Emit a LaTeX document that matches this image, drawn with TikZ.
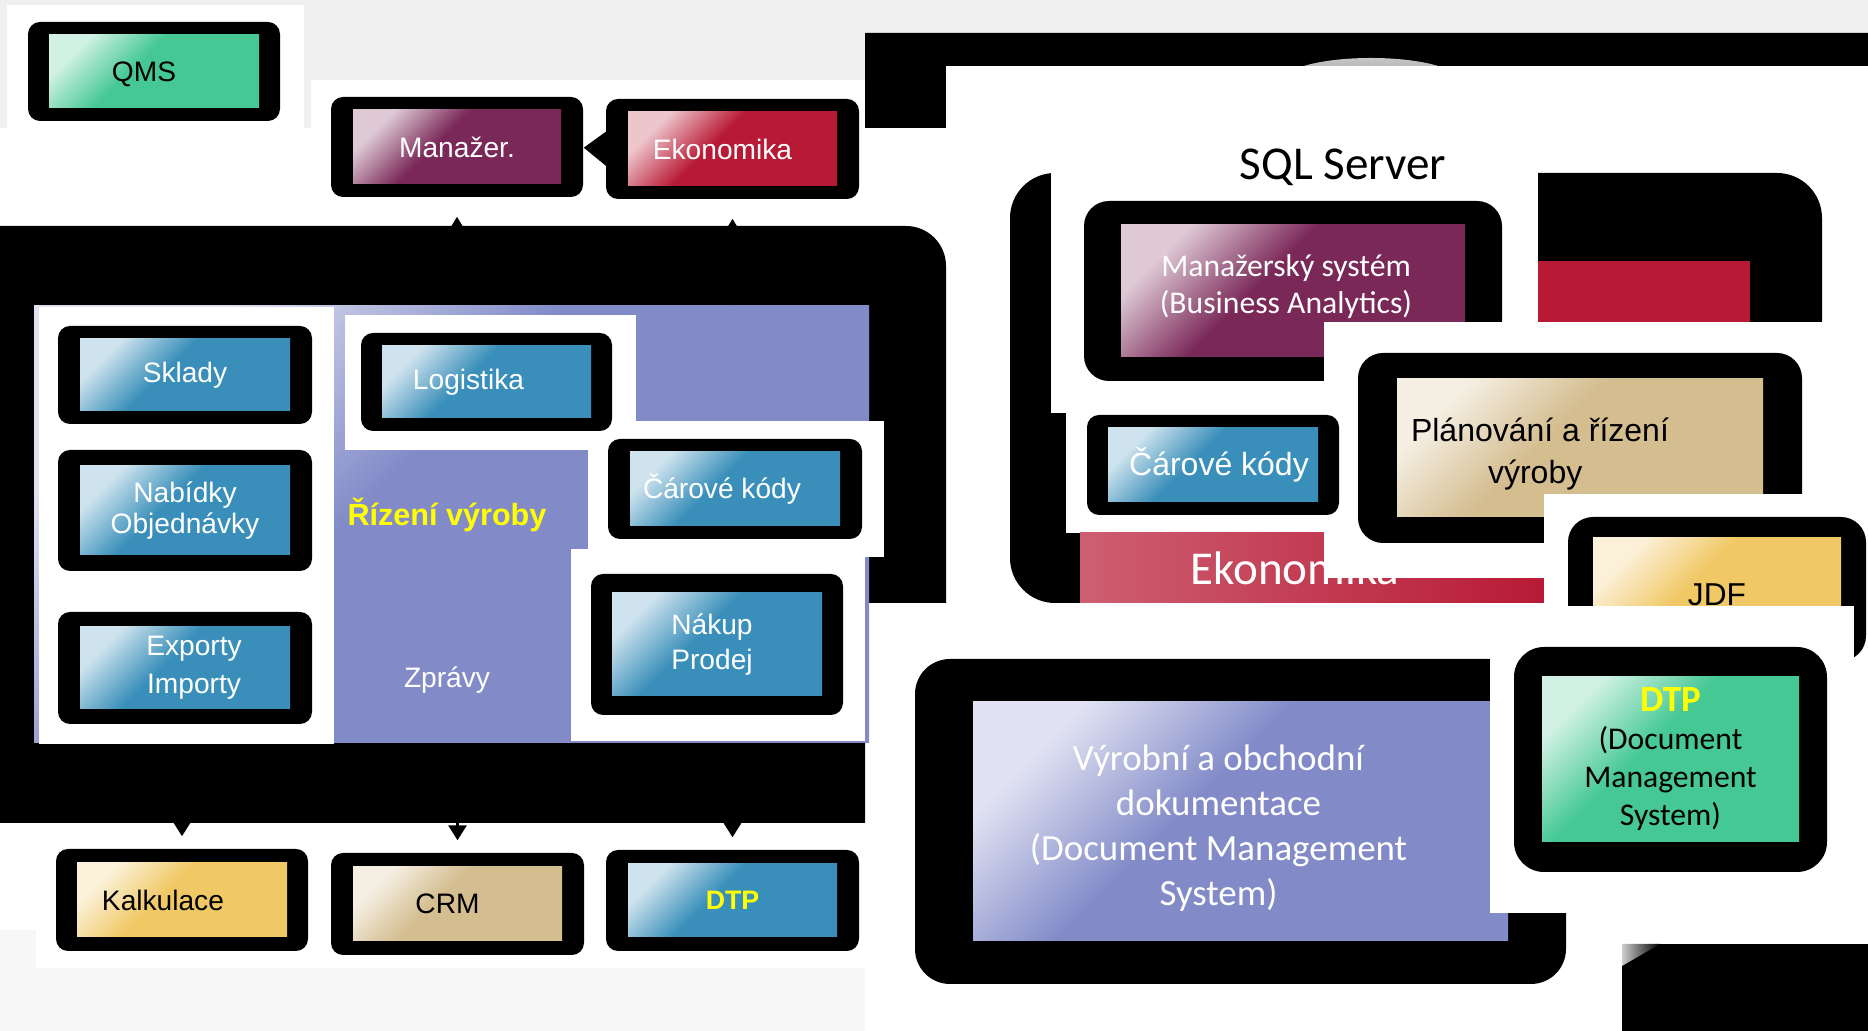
\documentclass[tikz,border=0pt]{standalone}
\usepackage{fontspec}
\setmainfont{Liberation Sans}
\newfontfamily\carlito{Carlito}
\usetikzlibrary{calc,fit,arrows.meta}

\definecolor{modra}{HTML}{3A8FBA}
\definecolor{fialova}{HTML}{7A2858}
\definecolor{cervena}{HTML}{B81A35}
\definecolor{zelena}{HTML}{45C894}
\definecolor{levandule}{HTML}{828BC8}
\definecolor{zluta}{HTML}{F0C865}
\definecolor{bezova}{HTML}{D4BD8F}
\definecolor{pozadi}{HTML}{F0F0F0}
\definecolor{pozadidole}{HTML}{F7F7F7}
\definecolor{zlutytext}{HTML}{FFFF00}

\pgfdeclareverticalshading[plna,svetla]{roh}{100bp}{color(0bp)=(plna); color(56bp)=(plna); color(75bp)=(svetla); color(100bp)=(svetla)}

\tikzset{
  ramec/.style={fill=black, rounded corners=1.2mm},
  zaplata/.style={fill=white},
  modul/.style={inner sep=0pt,
    /utils/exec={\colorlet{plna}{#1}\colorlet{svetla}{#1!25}},
    shading=roh, shading angle=45, shade},
  popis/.style={text=white, align=center, font=\fontsize{8}{10.8}\selectfont},
  sipka/.style={line width=0.85pt, -{Triangle[length=1.4mm,width=1.6mm]}},
}

% one module: black frame, coloured box, its text
\newcommand{\modul}[8][]{%
  \fill[ramec, rounded corners=#6] ($(#3)-(#5)$) rectangle ($(#4)+(#5)$);
  \node[modul=#7, fit={(#3)(#4)}] (#2) {};
  \node[popis, #1] (#2txt) at (#2.center) {#8};
}

\begin{document}
\begin{tikzpicture}[x=0.01cm, y=-0.01cm]
\useasboundingbox (0,0) rectangle (1868,1031);
% background
\fill[pozadi] (0,0) rectangle (1868,1031);
\fill[zaplata] (7,5) rectangle (304,128);
\fill[zaplata] (311,80) rectangle (880,226);
\fill[zaplata] (0,128) rectangle (946,1031);
\fill[pozadidole] (0,968) rectangle (865,1031);
\fill[pozadidole] (0,930) rectangle (36,968);
\fill (865,33) -- (1868,33) -- (1868,66) -- (946,66) -- (946,128) -- (865,128) -- cycle;
\shade[top color=gray!45, bottom color=gray] (1371,80) ellipse (0.87cm and 0.22cm);
\fill[zaplata] (946,66) rectangle (1868,1031);

% top row
\modul[text=black, xshift=-1mm, yshift=-0.3mm]{qms}{49,35}{259,108}{21,13}{1.2mm}{zelena}{QMS}
\modul{man}{353,110}{561,184}{22,13}{1.2mm}{fialova}{Manažer.}
\modul[xshift=-1mm]{eko}{628,112}{837,186}{22,13}{1.2mm}{cervena}{Ekonomika}
\draw[line width=1pt, -{Triangle[length=2.4mm,width=3.6mm]}, shorten <=2.2mm, shorten >=2.2mm] (eko.west) -- (man.east);

% left frame
\fill (0,226) -- (906,226) to[out=0,in=90] (946,266) -- (946,603) -- (865,603) -- (865,823) -- (0,823) -- cycle;
\node[modul=levandule, fit={(34,306)(869,743)}] (rizeni) {};
\draw[sipka, shorten >=3.2mm] (man.south |- rizeni.north) -- (man.south);
\draw[sipka, shorten >=3.2mm] (eko.south |- rizeni.north) -- (eko.south);
\fill[zaplata] (39,307) rectangle (334,744);
\fill[zaplata] (345,315) rectangle (636,450);
\fill[zaplata] (588,421) rectangle (884,557);
\fill[zaplata] (571,549) rectangle (865,741);

\modul{skl}{80,339}{290,411}{22,13}{1.2mm}{modra}{Sklady}
\modul[font=\fontsize{8}{9}\selectfont]{nab}{80,466}{290,555}{22,16}{1.2mm}{modra}{Nabídky\\Objednávky}
\modul[xshift=0.9mm]{exp}{80,627}{290,709}{22,15}{1.2mm}{modra}{Exporty\\Importy}
\modul[xshift=-1.8mm]{log}{382,346}{591,418}{21,13}{1.2mm}{modra}{Logistika}
\modul[xshift=-1.3mm]{car}{630,452}{840,526}{22,13}{1.2mm}{modra}{Čárové kódy}
\modul[font=\fontsize{8}{10}\selectfont, xshift=-0.5mm]{nak}{612,593}{822,696}{21,19}{1.2mm}{modra}{Nákup\\Prodej}
\node[text=zlutytext, font=\bfseries\fontsize{8.7}{10}\selectfont] (rizenitext) at (447,515) {Řízení výroby};
\node[popis] (zpravy) at (447,680) {Zprávy};

% bottom row
\modul[text=black, xshift=-1.9mm]{kal}{77,863}{287,937}{21,14}{1.2mm}{zluta}{Kalkulace}
\modul[text=black, xshift=-1mm]{crm}{353,867}{562,941}{22,14}{1.2mm}{bezova}{CRM}
\modul[text=zlutytext, font=\bfseries\fontsize{7.6}{10}\selectfont]{dtp}{628,864}{837,937}{22,14}{1.2mm}{modra}{DTP}
\foreach \cil in {kal,crm,dtp}
  \draw[sipka, -{Triangle[length=1.5mm,width=1.8mm]}, shorten >=2.6mm] (\cil.north |- rizeni.south) -- (\cil.north);

% SQL Server side
\fill[rounded corners=4.5mm] (1010,173) rectangle (1822,603);
\fill[cervena] (1538,261) rectangle (1750,330);
\fill[zaplata] (1051,66) rectangle (1538,413);
\fill[zaplata] (1066,413) rectangle (1360,533);
\node[font=\carlito\fontsize{13.4}{16}\selectfont] (sql) at (1343,167) {SQL Server};
\shade[left color=cervena!70, right color=cervena] (1080,533) rectangle (1544,603);
\node[text=white, font=\carlito\fontsize{13.4}{16}\selectfont] (ekotext) at (1295,568) {Ekonomika};
\modul[font=\carlito\fontsize{9}{10.5}\selectfont, xshift=-0.7mm, yshift=0.4mm]{mng}{1121,225}{1465,357}{37,24}{2.5mm}{fialova}{Manažerský systém\\(Business Analytics)}
\fill[zaplata] (1324,322) rectangle (1868,578);
\modul[font=\fontsize{9.1}{11}\selectfont, xshift=0.6mm]{car2}{1108,428}{1318,502}{21,13}{1.2mm}{modra}{Čárové kódy}
\modul[text=black, align=left, font=\fontsize{9.1}{11.9}\selectfont, xshift=-4mm, yshift=-0.6mm]{plan}{1397,379}{1763,517}{39,26}{2.5mm}{bezova}{Plánování a řízení\\\hspace*{7.7mm}výroby}
\fill[zaplata] (1544,494) rectangle (1868,610);
\modul[text=black, font=\fontsize{9}{11}\selectfont, yshift=-0.6mm]{jdf}{1593,538}{1841,640}{25,21}{2.5mm}{zluta}{JDF}
\modul[font=\carlito\fontsize{10.5}{12.8}\selectfont, xshift=-2.2mm, yshift=-0.7mm]{vyr}{973,702}{1508,941}{58,43}{3.5mm}{levandule}{Výrobní a obchodní\\dokumentace\\(Document Management\\System)}
\fill[zaplata] (1490,606) rectangle (1854,913);
\modul[text=black, font=\carlito\fontsize{9}{10.8}\selectfont]{dms}{1542,677}{1799,842}{28,30}{3mm}{zelena}{{\bfseries\color{zlutytext}\fontsize{10.5}{10.8}\selectfont DTP}\\(Document\\Management\\System)}
\fill (1622,944) rectangle (1868,1031);
\shade[left color=gray!40, right color=black] (1622,944) -- (1660,944) -- (1622,966) -- cycle;
\end{tikzpicture}
\end{document}
